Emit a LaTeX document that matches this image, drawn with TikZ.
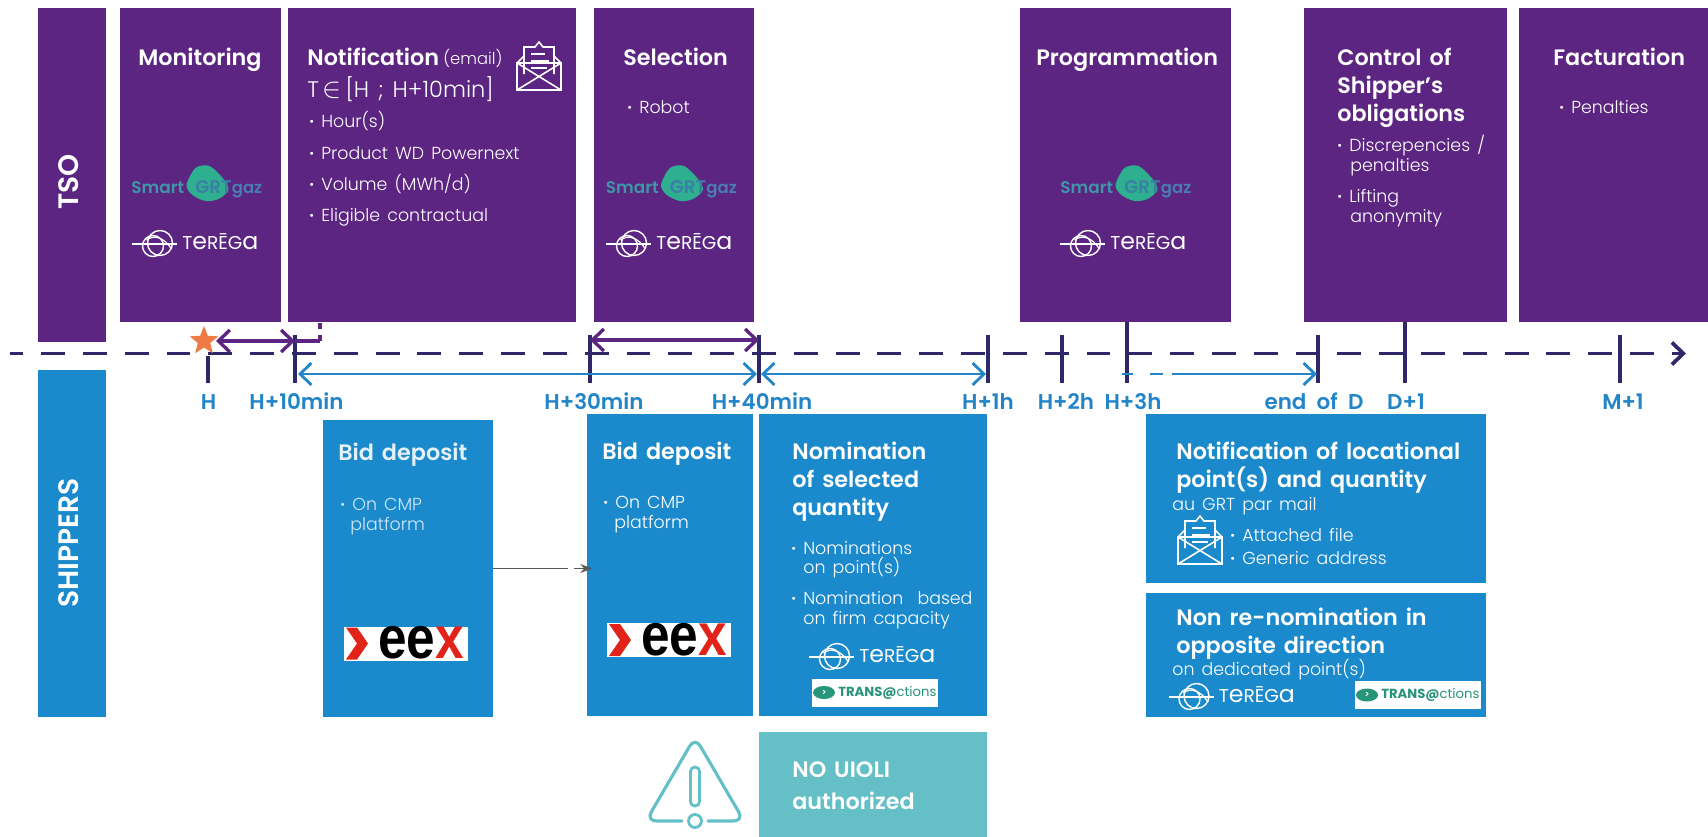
\documentclass[tikz,border=0pt]{standalone}
\usepackage{fontspec}
\setmainfont{Poppins}[UprightFont=*-Light,BoldFont=*-SemiBold,WordSpace=1.5]
\newfontfamily\logofam{Poppins}
\newfontfamily\eexfam{Liberation Sans}
\usetikzlibrary{arrows.meta,shapes.geometric}
\definecolor{tsopurple}{HTML}{5B2581}
\definecolor{shipblue}{HTML}{1B8ACD}
\definecolor{uioliteal}{HTML}{64C0C6}
\definecolor{axisnavy}{HTML}{2E2768}
\definecolor{labelblue}{HTML}{2285C8}
\definecolor{grtgreen}{HTML}{2EAF8F}
\definecolor{grtsmart}{HTML}{3F96A9}
\definecolor{grtmid}{HTML}{3A7FA6}
\definecolor{grtgaz}{HTML}{4A7DB0}
\definecolor{eexred}{HTML}{E2231A}
\definecolor{staror}{HTML}{EE7A46}
\newcommand{\blt}{\makebox[6.8pt][l]{\textbf{·}}}
\newcommand{\up}[1]{\scalebox{1.27}{#1}}
\tikzset{
  terega/.pic={
    \draw[white,line width=0.9pt] (-22.5,0) -- (22.5,0);
    \draw[white,line width=0.8pt] (5.5,-1) circle (12.5);
    \draw[white,line width=0.8pt] (-1.5,2) circle (10.5);
    \draw[white,line width=0.7pt] (-8,-4) .. controls (0,-10) and (10,-6) .. (17,5);
    \node[anchor=west,inner sep=0pt,text=white,text height=6pt,text depth=0pt,font=\fontsize{10.6}{12}\logofam] (-name) at (27.5,0) {T\up{e}RĒG\up{a}};
  },
  smartgrt/.pic={
    \fill[grtgreen] plot[smooth cycle] coordinates {(-12,-2) (-3,-19) (11,-21) (25,-8) (30,3) (20,12) (7,14) (-6,8)};
    \node[inner sep=0pt,anchor=east,text=grtsmart,text height=6.5pt,text depth=0pt,font=\fontsize{9.6}{11}\selectfont\bfseries] (-smart) at (-14,1) {Smart};
    \node[inner sep=0pt,text=grtmid,text height=6.5pt,text depth=0pt,font=\fontsize{10.4}{11}\selectfont\bfseries] (-grt) at (15,1) {GRT};
    \node[inner sep=0pt,anchor=west,text=grtgaz,text height=6.5pt,text depth=0pt,font=\fontsize{9.4}{11}\selectfont\bfseries] (-gaz) at (33,1) {gaz};
  },
  transactions/.pic={
    \node[fill=white,minimum width=2.52cm,minimum height=0.56cm,inner sep=0pt] (-back) at (0,0) {};
    \fill[grtgreen!85!black] (-51,0) ellipse (11 and 6.5);
    \node[inner sep=0pt,text=white,font=\fontsize{5}{6}\selectfont\bfseries] (-mark) at (-51,0) {>};
    \node[inner sep=0pt,anchor=west,text=grtgreen!85!black,font=\fontsize{7.5}{9}\logofam] (-name) at (-37,0) {\textbf{TRANS@}ctions};
  },
  eex/.pic={
    \node[fill=white,minimum width=2.5cm,minimum height=0.68cm,inner sep=0pt] (-back) at (0,0) {};
    \fill[eexred] (-60,-16) -- (-49,-16) -- (-38,0) -- (-49,16) -- (-60,16) -- (-49,0) -- cycle;
    \node[inner sep=0pt,font=\fontsize{34}{34}\selectfont\eexfam\bfseries,text height=17.5pt,text depth=0pt] (-name) at (15,0)
      {\scalebox{0.86}[1]{ee\textcolor{eexred}{x}}};
  },
  envelope/.pic={
    \draw[white,line width=0.9pt] (0,22) rectangle (44,49);
    \draw[white,line width=0.9pt] (0,22) -- (44,49) (44,22) -- (0,49);
    \draw[white,line width=0.9pt] (0,22) -- (7,15) (44,22) -- (37,15);
    \draw[white,line width=0.9pt] (7,33) -- (7,6) -- (18,6) -- (22,1) -- (26,6) -- (37,6) -- (37,33);
    \draw[white,line width=0.8pt] (14,13) -- (28,13) (14,20) -- (32,20) (14,27) -- (30,27);
  },
}
\begin{document}
\begin{tikzpicture}[x=0.02cm,y=-0.02cm,>={Straight Barb[length=6.5pt,width=12.5pt]},
  boxsize/.style 2 args={minimum width=#1*0.02cm,minimum height=#2*0.02cm,inner sep=0pt},
  tsobox/.style={fill=tsopurple},
  shipbox/.style={fill=shipblue},
  ttl/.style={anchor=west,inner sep=0pt,text=white,text height=9pt,text depth=0pt,font=\fontsize{12.7}{15}\selectfont\bfseries},
  txt/.style={anchor=west,inner sep=0pt,text=white,text height=7pt,text depth=0pt,font=\fontsize{9.9}{12}\selectfont},
  lab/.style={inner sep=0pt,text=labelblue,text height=9pt,text depth=0pt,font=\fontsize{12.2}{15}\selectfont\bfseries},
  side/.style={rotate=90,inner sep=0pt,text=white,font=\fontsize{16}{18}\selectfont\bfseries},
  tickline/.style={axisnavy,line width=2pt},
  purplearrow/.style={tsopurple,line width=1.9pt,<->},
  bluearrow/.style={labelblue,line width=1.6pt},
  ]
  \useasboundingbox (0,0) rectangle (1708,836);
  % boxes
  \node[tsobox,boxsize={68}{334}]   (tso)     at (72,175)     {};
  \node[shipbox,boxsize={68}{347}]  (ship)    at (72,543)     {};
  \node[tsobox,boxsize={161}{314}]  (monit)   at (200,165)    {};
  \node[tsobox,boxsize={288}{314}]  (notif)   at (432,165)    {};
  \node[tsobox,boxsize={160}{314}]  (select)  at (674,165)    {};
  \node[tsobox,boxsize={211}{314}]  (progr)   at (1125.5,165) {};
  \node[tsobox,boxsize={203}{314}]  (contr)   at (1405.5,165) {};
  \node[tsobox,boxsize={189}{314}]  (fact)    at (1613.5,165) {};
  \node[shipbox,boxsize={170}{297}] (bidold)  at (408,568.5)  {};
  \node[shipbox,boxsize={166}{302}] (bid)     at (670,565)    {};
  \node[shipbox,boxsize={228}{302}] (nomin)   at (873,565)    {};
  \node[shipbox,boxsize={340}{169}] (locat)   at (1316,498.5) {};
  \node[shipbox,boxsize={340}{124}] (nonre)   at (1316,655)   {};
  \node[fill=uioliteal,boxsize={228}{105}] (uioli) at (873,784) {};
  % side labels
  \node[side] (tsolab)  at (69,182) {TSO};
  \node[side] (shiplab) at (69,543) {SHIPPERS};
  % timeline
  \coordinate (axstart) at (9.5,353.5);
  \coordinate (axend) at (1686,353.5);
  \draw[axisnavy,line width=2.1pt,dash pattern=on 13.6pt off 10.2pt,dash phase=5.8pt,->] (axstart) -- (axend);
  \foreach \n/\x in {10/295,30/590,40/759,1h/988,2h/1062,D/1318,M1/1620}
    {\coordinate (t\n) at (\x,353.5);
     \draw[tickline] (\x,335) -- (\x,383);}
  \coordinate (tH) at (208,353.5);
  \coordinate (t3h) at (1127,353.5);
  \coordinate (tD1) at (1405,353.5);
  \draw[tickline] (208,356) -- (208,383);
  \draw[tickline] (t3h |- progr.south) -- (1127,383);
  \draw[tickline] (tD1 |- contr.south) -- (1405,383);
  \node[star,star points=5,star point ratio=2.3,fill=staror,minimum size=0.6cm,inner sep=0pt] (star) at (204,341) {};
  % spans
  \coordinate (hstart) at (216,341);
  \coordinate (drop) at (320,341);
  \draw[purplearrow] (hstart) -- (t10 |- hstart);
  \draw[tsopurple,line width=1.9pt] (t10 |- hstart) -- (drop);
  \draw[tsopurple,line width=1.9pt,dash pattern=on 3.4pt off 3.4pt] (drop) -- (drop |- notif.south);
  \draw[purplearrow] (t30 |- 0,340) -- (t40 |- 0,340);
  \draw[bluearrow,<->] (298,374) -- (757,374);
  \draw[bluearrow,<->] (761,374) -- (986,374);
  \draw[bluearrow,->,dash pattern=on 6pt off 10pt on 7.5pt off 5pt on 90pt] (1122,374) -- (1317,374);
  % ticks labels
  \node[lab] (labH)   at (208.5,402) {H};
  \node[lab] (lab10)  at (296.5,402) {H+10min};
  \node[lab] (lab30)  at (594,402)   {H+30min};
  \node[lab] (lab40)  at (762,402)   {H+40min};
  \node[lab] (lab1h)  at (988,402)   {H+1h};
  \node[lab] (lab2h)  at (1066,402)  {H+2h};
  \node[lab] (lab3h)  at (1133,402)  {H+3h};
  \node[lab] (labD)   at (1314,402)  {end\hspace{1.5pt} of\hspace{1.5pt} D};
  \node[lab] (labD1)  at (1406,402)  {D+1};
  \node[lab] (labM1)  at (1623,402)  {M+1};
  % TSO contents
  \node[ttl] (t01) at (138,58)  {Monitoring};
  \node[ttl] (t02) at (307,58)  {Notification};
  \node[txt,font=\fontsize{9.3}{12}\selectfont] (t03) at (443,58)  {(email)};
  \node[txt,font=\fontsize{12.8}{15}\selectfont,text height=9pt] (t04) at (307,90) {T\,\scalebox{1.35}{$\in$}\,[H ; H+10min]};
  \node[txt] (t05) at (309,121) {\blt Hour(s)};
  \node[txt] (t06) at (309,153) {\blt Product WD Powernext};
  \node[txt] (t07) at (309,184) {\blt Volume (MWh/d)};
  \node[txt] (t08) at (309,215) {\blt Eligible contractual};
  \node[ttl] (t09) at (623,58)  {Selection};
  \node[txt] (t10n) at (627,107) {\blt Robot};
  \node[ttl] (t11) at (1036,58) {Programmation};
  \node[ttl] (t12) at (1337,58) {Control of};
  \node[ttl] (t13) at (1337,86) {Shipper's};
  \node[ttl] (t14) at (1337,114) {obligations};
  \node[txt] (t15) at (1337,145) {\blt Discrepencies /};
  \node[txt] (t16) at (1350,165) {penalties};
  \node[txt] (t17) at (1337,196) {\blt Lifting};
  \node[txt] (t18) at (1350,216) {anonymity};
  \node[ttl] (t19) at (1553,58) {Facturation};
  \node[txt] (t20) at (1559,107) {\blt Penalties};
  \pic at (517,41) {envelope};
  \pic (sm1) at (198.5,187) {smartgrt};
  \pic (sm2) at (673,187)   {smartgrt};
  \pic (sm3) at (1127.5,187) {smartgrt};
  \pic (te1) at (154.5,244) {terega};
  \pic (te2) at (628.5,244) {terega};
  \pic (te3) at (1082.5,244) {terega};
  % SHIPPERS contents
  \node[ttl,text=white!88!shipblue] (s01) at (338,453) {Bid deposit};
  \node[txt,text=white!80!shipblue] (s02) at (340,504) {\blt On CMP};
  \node[txt,text=white!80!shipblue] (s03) at (350,524) {platform};
  \node[ttl] (s04) at (602,452) {Bid deposit};
  \node[txt] (s05) at (603,502) {\blt On CMP};
  \node[txt] (s06) at (614,522) {platform};
  \node[ttl] (s07) at (792,452) {Nomination};
  \node[ttl] (s08) at (792,480) {of selected};
  \node[ttl] (s09) at (792,508) {quantity};
  \node[txt] (s10) at (791,548) {\blt Nominations};
  \node[txt] (s11) at (803,567) {on point(s)};
  \node[txt] (s12) at (791,598) {\blt Nomination\ \ based};
  \node[txt] (s13) at (803,618) {on firm capacity};
  \node[ttl] (s14) at (1176,452) {Notification of locational};
  \node[ttl] (s15) at (1176,480) {point(s) and quantity};
  \node[txt] (s16) at (1172,504) {au GRT par mail};
  \node[txt] (s17) at (1230,535) {\blt Attached file};
  \node[txt] (s18) at (1230,558) {\blt Generic address};
  \node[ttl] (s19) at (1176,618) {Non re-nomination in};
  \node[ttl] (s20) at (1176,646) {opposite direction};
  \node[txt] (s21) at (1172,669) {on dedicated point(s)};
  \node[ttl] (s22) at (792,770) {NO UIOLI};
  \node[ttl] (s23) at (792,802) {authorized};
  \pic at (1178,515) {envelope};
  \pic (ee1) at (406,643.5) {eex};
  \pic (ee2) at (669,640)   {eex};
  \pic (te4) at (831.5,657) {terega};
  \pic (te5) at (1191,697)  {terega};
  \pic (tr1) at (875,692.5) {transactions};
  \pic (tr2) at (1418,695)  {transactions};
  % link between the bid boxes
  \coordinate (bidin) at ([xshift=6*0.02cm]bid.west |- bidold.east);
  \draw[black!65,line width=1.1pt,-{Stealth[length=7pt,width=5pt]},dash pattern=on 42.5pt off 3.4pt on 30pt] (bidold.east) -- (bidin);
  % warning sign
  \node[draw=uioliteal,line width=1.6pt,circle,minimum size=0.26cm,inner sep=0pt] (warndot) at (695,821) {};
  \coordinate (warnl) at (682,821);
  \coordinate (warnr) at (708,821);
  \draw[uioliteal,line width=1.8pt,line cap=round,rounded corners=6pt] (warnl) -- (646,821) -- (695,737) -- (744,821) -- (warnr);
  \node[draw=uioliteal,line width=1.6pt,rounded corners=2.5pt,minimum width=0.18cm,minimum height=0.78cm,inner sep=0pt] (warnbar) at (695,786.5) {};
\end{tikzpicture}
\end{document}
